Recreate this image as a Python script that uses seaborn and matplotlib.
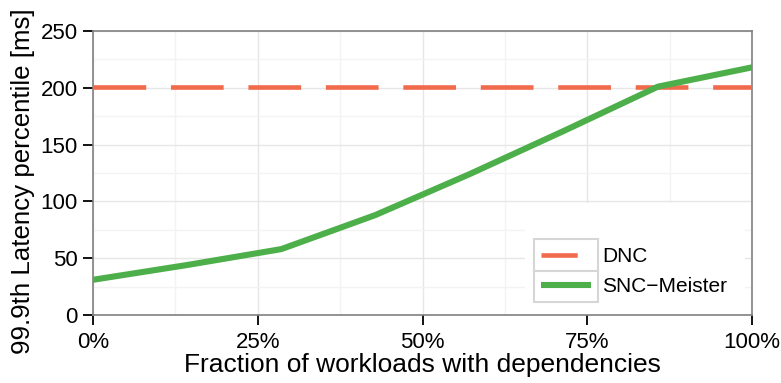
import matplotlib
matplotlib.use("Agg")
import matplotlib.pyplot as plt
from matplotlib.lines import Line2D
from matplotlib.patches import Rectangle
from matplotlib.ticker import FuncFormatter, MultipleLocator
import pandas as pd
import seaborn as sns

# Fraction of workloads with dependencies (%), eight evaluated settings
fraction_pct = [0, 100 / 7, 200 / 7, 300 / 7, 400 / 7, 500 / 7, 600 / 7, 100]
snc_meister_ms = [31, 44, 58, 88, 124, 162, 201, 218]
dnc_ms = [201] * len(fraction_pct)

x_ticks = [0, 25, 50, 75, 100]
y_ticks = [0, 50, 100, 150, 200, 250]

RED = "#F16A4B"
GREEN = "#4DAF4A"

sns.set_theme(style="white")
plt.rcParams["font.family"] = ["Liberation Sans", "DejaVu Sans"]

df = pd.DataFrame({
    "fraction": fraction_pct * 2,
    "latency": dnc_ms + snc_meister_ms,
    "system": ["DNC"] * len(fraction_pct) + ["SNC\u2212Meister"] * len(fraction_pct),
})

W, H = 781, 383
fig = plt.figure(figsize=(W / 100, H / 100), dpi=100)
ax = fig.add_axes([93 / W, 68 / H, 659 / W, 284 / H])

sns.lineplot(data=df[df.system == "DNC"], x="fraction", y="latency", ax=ax,
             color=RED, linewidth=3.3, legend=False, zorder=3)
ax.lines[-1].set_dashes((11.5, 5.4))
ax.lines[-1].set_dash_capstyle("butt")
sns.lineplot(data=df[df.system != "DNC"], x="fraction", y="latency", ax=ax,
             color=GREEN, linewidth=4.4, legend=False, zorder=4)

ax.set_xlim(0, 100)
ax.set_ylim(0, 250)
ax.set_xticks(x_ticks)
ax.set_yticks(y_ticks)
ax.xaxis.set_major_formatter(FuncFormatter(lambda v, _: f"{v:.0f}%"))
ax.xaxis.set_minor_locator(MultipleLocator(12.5))
ax.yaxis.set_minor_locator(MultipleLocator(25))

ax.set_axisbelow(True)
ax.grid(which="major", color="#E6E6E6", linewidth=1.0)
ax.grid(which="minor", color="#F3F3F3", linewidth=1.0)

for s in ax.spines.values():
    s.set_color("#808080")
    s.set_linewidth(1.2)

ax.tick_params(which="major", direction="out", length=7, width=1.3,
               color="black", labelsize=16, pad=4, labelcolor="black")
ax.tick_params(which="minor", length=0)
ax.tick_params(axis="x", pad=5, bottom=True)
ax.tick_params(axis="y", left=True)

ax.set_xlabel("Fraction of workloads with dependencies", fontsize=19, labelpad=0, color="black")
ax.set_ylabel("99.9th Latency percentile [ms]", fontsize=18.6, color="black")
ax.yaxis.set_label_coords(-70 / 659, 0.472)
ax.yaxis.label.set_verticalalignment("center")

# White panel behind the legend hides the grid there
ax.add_patch(Rectangle((0.6555, 0.0), 0.3335, 0.394, transform=ax.transAxes,
                       facecolor="white", edgecolor="none", zorder=1.5))

# Framed key boxes
for top, bot in [(239, 270.5), (270.5, 302)]:
    ax.add_patch(Rectangle((534 / W, 1 - bot / H), 64 / W, (bot - top) / H,
                           transform=fig.transFigure, facecolor="white",
                           edgecolor="#D6D6D6", linewidth=1.5, zorder=5,
                           clip_on=False))

handles = [
    Line2D([], [], color=RED, linewidth=3.3, dashes=(7.9, 12), dash_capstyle="butt"),
    Line2D([], [], color=GREEN, linewidth=4.4, solid_capstyle="butt"),
]
leg = ax.legend(handles, ["DNC", "SNC\u2212Meister"], loc="upper left",
                bbox_to_anchor=(541 / W, 1 - 247 / H), bbox_transform=fig.transFigure,
                frameon=False, fontsize=15, borderpad=0, borderaxespad=0,
                handlelength=2.4, handletextpad=0.55, labelspacing=0.55)
leg.set_zorder(6)
for t in leg.get_texts():
    t.set_color("black")

fig.savefig("out.png", dpi=100)
